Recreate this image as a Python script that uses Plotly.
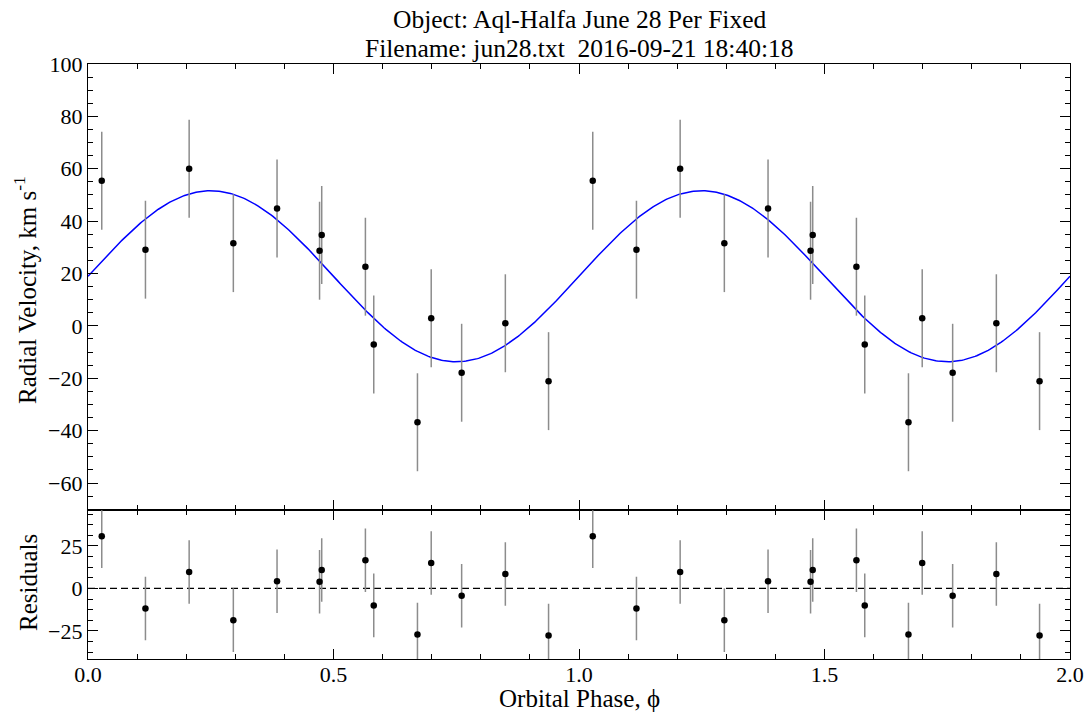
import numpy as np
import plotly.graph_objects as go
from plotly.subplots import make_subplots

# Radial velocity measurements folded on the orbital period
phase = [0.028, 0.117, 0.206, 0.296, 0.385, 0.4716, 0.476, 0.565,
         0.582, 0.671, 0.699, 0.761, 0.850, 0.938]
velocity = [55.4, 29.1, 60.0, 31.6, 44.8, 28.7, 34.7, 22.6,
            -7.1, -36.8, 2.9, -17.9, 1.0, -21.1]
velocity_err = [18.7, 18.7, 18.7, 18.7, 18.7, 18.7, 18.7, 18.7,
                18.7, 18.7, 18.7, 18.7, 18.7, 18.7]

# Fitted circular orbit (period fixed): V = gamma + K sin(2*pi*(phi - phi0))
gamma = 18.95
k_amp = 32.65
phi0 = 0.0

x_ticks = [0.0, 0.5, 1.0, 1.5, 2.0]
x_tick_labels = ["0.0", "0.5", "1.0", "1.5", "2.0"]

title_lines = ["Object: Aql-Halfa June 28 Per Fixed",
               "Filename: jun28.txt  2016-09-21 18:40:18"]


def rv_model(p):
    p = np.asarray(p, dtype=float)
    return gamma + k_amp * np.sin(2 * np.pi * (p - phi0))


ph = np.array(phase)
vel = np.array(velocity)
err = np.array(velocity_err)
resid = vel - rv_model(ph)

# two cycles shown
ph2 = np.concatenate([ph, ph + 1])
vel2 = np.concatenate([vel, vel])
err2 = np.concatenate([err, err])
res2 = np.concatenate([resid, resid])

curve_x = np.linspace(0, 2, 601)
curve_y = rv_model(curve_x)

FONT = "Liberation Serif"
W, H = 1086, 713
ML, MR, MT, MB = 88, 16, 64, 54
PW, PH = W - ML - MR, H - MT - MB


def px_x(x):
    return (x - ML) / PW


def px_y(y):
    return (H - MB - y) / PH


fig = make_subplots(rows=2, cols=1, shared_xaxes=False, vertical_spacing=0,
                    row_heights=[0.75, 0.25])

fig.add_trace(go.Scatter(x=curve_x, y=curve_y, mode="lines",
                         line=dict(color="#0000ff", width=1.5),
                         hoverinfo="skip", showlegend=False), row=1, col=1)

err_style = dict(type="data", color="#8c8c8c", thickness=1.5, width=0)

fig.add_trace(go.Scatter(x=ph2, y=vel2, mode="markers",
                         marker=dict(color="black", size=6.5),
                         error_y=dict(array=err2, **err_style),
                         showlegend=False), row=1, col=1)

fig.add_trace(go.Scatter(x=[0, 2], y=[0, 0], mode="lines",
                         line=dict(color="black", width=1.3, dash="7px,4px"),
                         hoverinfo="skip", showlegend=False), row=2, col=1)

fig.add_trace(go.Scatter(x=ph2, y=res2, mode="markers",
                         marker=dict(color="black", size=6.5),
                         error_y=dict(array=err2, **err_style),
                         showlegend=False), row=2, col=1)

axis_common = dict(showline=True, linecolor="black", linewidth=1.4,
                   mirror="allticks", ticks="inside", ticklen=10,
                   tickwidth=1.2, tickcolor="black", showgrid=False,
                   zeroline=False, automargin=False,
                   tickfont=dict(family=FONT, size=22, color="black"))

minor_common = dict(ticks="inside", ticklen=5, tickwidth=1.2,
                    tickcolor="black", showgrid=False)

fig.update_xaxes(range=[0, 2], tickvals=x_ticks, showticklabels=False,
                 minor=dict(dtick=0.1, tick0=0, **minor_common),
                 **axis_common, row=1, col=1)
fig.update_xaxes(range=[0, 2], tickvals=x_ticks, ticktext=x_tick_labels,
                 ticklabelstandoff=-5,
                 minor=dict(dtick=0.1, tick0=0, **minor_common),
                 **axis_common, row=2, col=1)

fig.update_yaxes(range=[-70.4, 100], tick0=0, dtick=20,
                 minor=dict(dtick=5, tick0=0, **minor_common),
                 **axis_common, row=1, col=1)
fig.update_yaxes(range=[-41.5, 46], tick0=0, dtick=25,
                 minor=dict(dtick=6.25, tick0=0, **minor_common),
                 **axis_common, row=2, col=1)

label_font = dict(family=FONT, size=25, color="black")
head_font = dict(family=FONT, size=25.5, color="black")
annotations = [
    dict(text=title_lines[0], x=px_x(579), y=px_y(19.5), font=head_font),
    dict(text=title_lines[1], x=px_x(579), y=px_y(48), font=head_font),
    dict(text="Orbital Phase, ϕ", x=px_x(579), y=px_y(698), font=label_font),
    dict(text="Radial Velocity, km s<sup>-1</sup>", x=px_x(25), y=px_y(290),
         textangle=-90, font=label_font),
    dict(text="Residuals", x=px_x(28), y=px_y(583), textangle=-90,
         font=label_font),
]
for a in annotations:
    a.update(xref="paper", yref="paper", xanchor="center", yanchor="middle",
             showarrow=False)

fig.update_layout(
    width=W, height=H,
    margin=dict(l=ML, r=MR, t=MT, b=MB),
    paper_bgcolor="white", plot_bgcolor="white",
    font=dict(family=FONT, color="black"),
    annotations=annotations,
)

fig.write_html("out.html")
